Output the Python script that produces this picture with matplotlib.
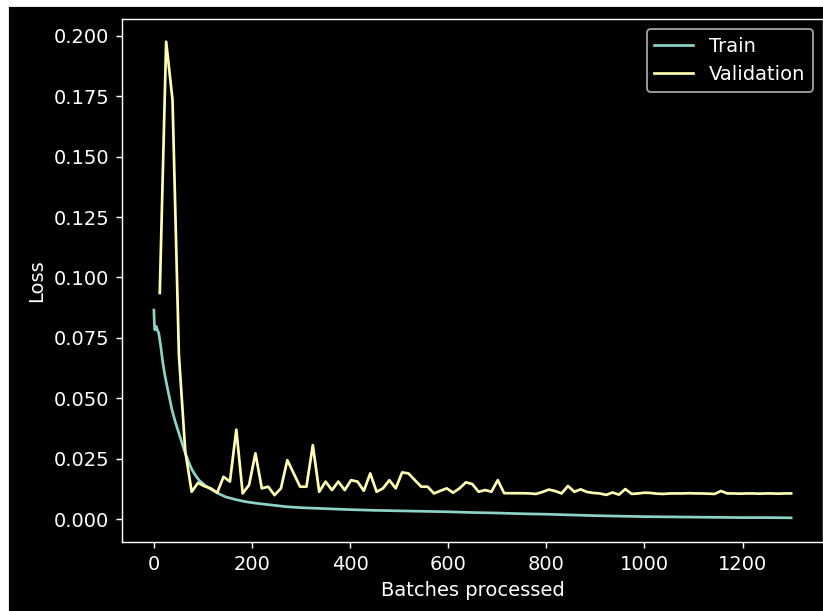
import numpy as np
import matplotlib
matplotlib.use("Agg")
import matplotlib.pyplot as plt
from matplotlib.patches import Rectangle

plt.style.use("dark_background")
plt.rcParams["font.size"] = 10.8

# training loss at these batches
train_batches = [0, 1, 2, 3, 5, 7, 10, 14, 18, 22, 27, 32, 37, 44, 51, 58, 64, 71,
                 78, 85, 92, 105, 119, 132, 146, 166, 186, 210, 240, 270, 300, 350,
                 400, 450, 500, 550, 600, 650, 700, 750, 800, 850, 900, 950, 1000,
                 1050, 1100, 1150, 1200, 1250, 1299]
train_loss = [0.0865, 0.0803, 0.0783, 0.0790, 0.0797, 0.0783, 0.0769, 0.0714, 0.0650,
              0.0600, 0.0548, 0.0500, 0.0451, 0.0400, 0.0355, 0.0310, 0.0272, 0.0235,
              0.0203, 0.0180, 0.0161, 0.0138, 0.0120, 0.0105, 0.0092, 0.0081, 0.0072,
              0.0065, 0.0058, 0.0051, 0.0047, 0.0043, 0.0039, 0.0036, 0.0034, 0.0032,
              0.0030, 0.0027, 0.0025, 0.0022, 0.0020, 0.0017, 0.0014, 0.0012, 0.0010,
              0.0009, 0.0008, 0.0007, 0.0006, 0.0006, 0.0005]

# validation was run every 13 batches
val_batches = np.arange(12, 1300, 13)
val_loss = [0.0936, 0.1976, 0.1735, 0.0680, 0.0280, 0.0113, 0.0150, 0.0136, 0.0127, 0.0109,
            0.0175, 0.0155, 0.0370, 0.0106, 0.0141, 0.0272, 0.0127, 0.0134, 0.0099, 0.0127,
            0.0244, 0.0189, 0.0134, 0.0134, 0.0306, 0.0113, 0.0155, 0.0120, 0.0155, 0.0120,
            0.0161, 0.0155, 0.0117, 0.0189, 0.0113, 0.0127, 0.0161, 0.0127, 0.0193, 0.0189,
            0.0161, 0.0134, 0.0134, 0.0106, 0.0117, 0.0127, 0.0109, 0.0127, 0.0152, 0.0145,
            0.0113, 0.0120, 0.0113, 0.0161, 0.0107, 0.0107, 0.0107, 0.0107, 0.0106, 0.0104,
            0.0112, 0.0122, 0.0116, 0.0106, 0.0137, 0.0113, 0.0123, 0.0112, 0.0108, 0.0106,
            0.0100, 0.0110, 0.0101, 0.0124, 0.0104, 0.0106, 0.0109, 0.0108, 0.0105, 0.0104,
            0.0106, 0.0106, 0.0106, 0.0107, 0.0106, 0.0106, 0.0105, 0.0104, 0.0116, 0.0106,
            0.0106, 0.0105, 0.0106, 0.0106, 0.0105, 0.0106, 0.0106, 0.0105, 0.0106, 0.0106]

fig = plt.figure(figsize=(823 / 130, 611 / 130), dpi=130)
ax = fig.add_axes([122 / 823, 69 / 611, 701 / 823, 523 / 611])

ax.plot(train_batches, train_loss, label="Train")
ax.plot(val_batches, val_loss, label="Validation")

ax.set_xlim(-65, 1364)
ax.set_ylim(-0.0095, 0.207)
ax.set_xlabel("Batches processed")
ax.set_ylabel("Loss")
ax.legend(loc="upper right")

# thin white margin at the top and left of the screenshot
fig.patches.append(Rectangle((0, 1 - 6 / 611), 1, 6 / 611, transform=fig.transFigure,
                             color="white", zorder=-1))
fig.patches.append(Rectangle((0, 0), 8 / 823, 1, transform=fig.transFigure,
                             color="white", zorder=-1))

fig.savefig("out.png", dpi=130)
